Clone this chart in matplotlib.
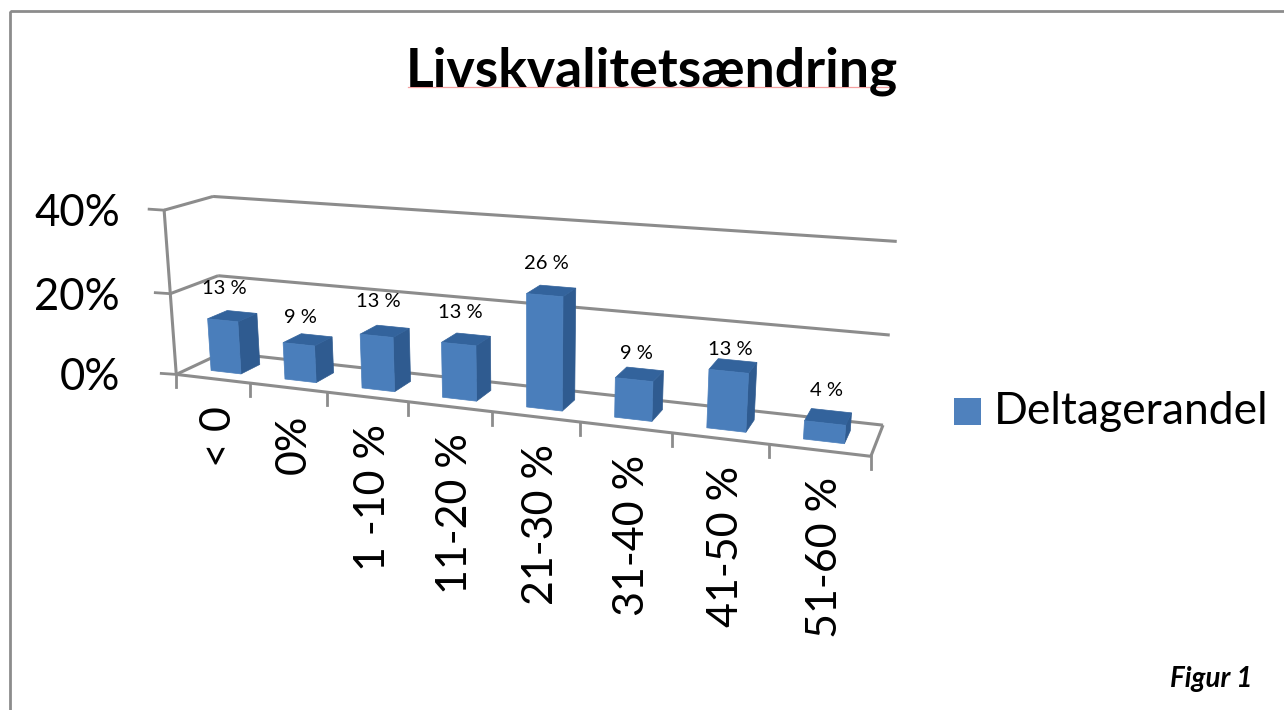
#!/usr/bin/env python
import numpy as np
import matplotlib
matplotlib.use("Agg")
import matplotlib.pyplot as plt
from matplotlib.patches import Polygon, Rectangle

plt.rcParams['font.family'] = ['Lato', 'DejaVu Sans']

title = "Livskvalitetsændring"
series_name = "Deltagerandel"
categories = ["< 0", "0%", "1 -10 %", "11-20 %", "21-30 %", "31-40 %", "41-50 %", "51-60 %"]
values = [13, 9, 13, 13, 26, 9, 13, 4]
value_labels = ["13 %", "9 %", "13 %", "13 %", "26 %", "9 %", "13 %", "4 %"]
y_ticks = [0, 20, 40]
y_tick_labels = ["0%", "20%", "40%"]

FRONT = "#4a7ebb"
SIDE = "#2f5b90"
TOP = "#33639c"
GRID = "#8c8c8c"

# the old 3D view: (category, depth, percent) seen from the frame of the plot box -> pixels
view_3d = [(0, 0, 0), (1, 0, 0), (2, 0, 0), (3, 0, 0), (4, 0, 0), (5, 0, 0), (6, 0, 0), (7, 0, 0), (8, 0, 0),
           (0, 1, 0), (8, 1, 0), (0, 0, 20), (0, 1, 20), (8, 1, 20), (0, 0, 40), (0, 1, 40), (8, 1, 40)]
view_px = [(176.7, 374), (249.3, 383), (326.7, 392), (407.7, 402), (492.3, 412), (580, 422.5), (672.3, 433.5),
           (769, 444.5), (870.7, 456), (224, 353), (883, 424), (170, 293), (217.3, 275.7), (890, 335),
           (165, 210), (212.7, 196.7), (896.7, 241.7)]


def fit_camera(pts, px):
    rows = []
    for (x, z, v), (u, w) in zip(pts, px):
        rows.append([x, z, v, 1, 0, 0, 0, 0, -u * x, -u * z, -u * v, -u])
        rows.append([0, 0, 0, 0, x, z, v, 1, -w * x, -w * z, -w * v, -w])
    _, _, vt = np.linalg.svd(np.array(rows, dtype=float))
    return vt[-1].reshape(3, 4)


cam = fit_camera(view_3d, view_px)


def project(x, z, v):
    p = cam @ np.array([x, z, v, 1.0])
    return p[0] / p[2], p[1] / p[2]


def line3d(ax, a, b, **kw):
    p, q = project(*a), project(*b)
    ax.plot([p[0], q[0]], [p[1], q[1]], color=GRID, lw=2.2, solid_capstyle='butt', **kw)


fig = plt.figure(figsize=(12.84, 7.10), dpi=100)
ax = fig.add_axes([0, 0, 1, 1])
ax.set_xlim(0, 1284)
ax.set_ylim(710, 0)
ax.axis('off')

# chart frame, runs off the picture on the right and at the bottom
ax.add_patch(Rectangle((9.5, 11), 1400, 800, fc='none', ec=GRID, lw=2.0))

# walls and floor
n = len(categories)
for v in y_ticks:
    line3d(ax, (0, 0, v), (0, 1, v))
    line3d(ax, (0, 1, v), (n, 1, v))
    px, py = project(0, 0, v)
    ax.plot([px - 15, px], [py - 1, py], color=GRID, lw=2.0)
line3d(ax, (0, 0, 0), (0, 0, 40))
line3d(ax, (n, 0, 0), (n, 1, 0))
line3d(ax, (0, 0, 0), (n, 0, 0))
for i in range(n + 1):
    px, py = project(i, 0, 0)
    ax.plot([px, px], [py, py + 13], color=GRID, lw=2.0)

# bars
x0, x1 = 0.295, 0.705
z0, z1 = 0.28, 0.70
label_dy = [-32, -27, -34, -32, -32, -26, -22, -33]
for i, val in enumerate(values):
    xa, xb = i + x0, i + x1
    front = [project(xa, z0, 0), project(xb, z0, 0), project(xb, z0, val), project(xa, z0, val)]
    side = [project(xb, z0, 0), project(xb, z1, 0), project(xb, z1, val), project(xb, z0, val)]
    top = [project(xa, z0, val), project(xb, z0, val), project(xb, z1, val), project(xa, z1, val)]
    ax.add_patch(Polygon(side, fc=SIDE, ec=SIDE, lw=0.5, zorder=3))
    ax.add_patch(Polygon(top, fc=TOP, ec=TOP, lw=0.5, zorder=3))
    ax.add_patch(Polygon(front, fc=FRONT, ec=FRONT, lw=0.5, zorder=3))
    lx, ly = project(i + 0.5, z0, val)
    ax.text(lx + 2, ly + label_dy[i], value_labels[i], fontsize=14.5, ha='center', va='center', color='black', zorder=4)

# axis labels
for v, lab in zip(y_ticks, y_tick_labels):
    px, py = project(0, 0, v)
    ax.text(120, py + 3.5, lab, fontsize=31.5, ha='right', va='center', color='black')
for i, lab in enumerate(categories):
    px, py = project(i + 0.5, 0, 0)
    ax.text(px + 6, py + 27, lab, fontsize=31, rotation=90, ha='center', va='top', color='black')

# title, with the spell checker's pink line from the source
ax.text(651.5, 87, title, fontsize=38.5, fontweight='bold', ha='center', va='baseline', color='black')
ax.plot([408, 895], [87, 87], color='#f5a0a0', lw=0.9, zorder=1)

# legend
ax.add_patch(Rectangle((954, 398), 27, 27, fc="#4f81bd", ec='none'))
ax.text(994, 411, series_name, fontsize=32, ha='left', va='center', color='black')

ax.text(1253, 679, "Figur 1", fontsize=20, fontweight='bold', fontstyle='italic', ha='right', va='center', color='black')

fig.savefig("out.png", dpi=100)
plt.close()
